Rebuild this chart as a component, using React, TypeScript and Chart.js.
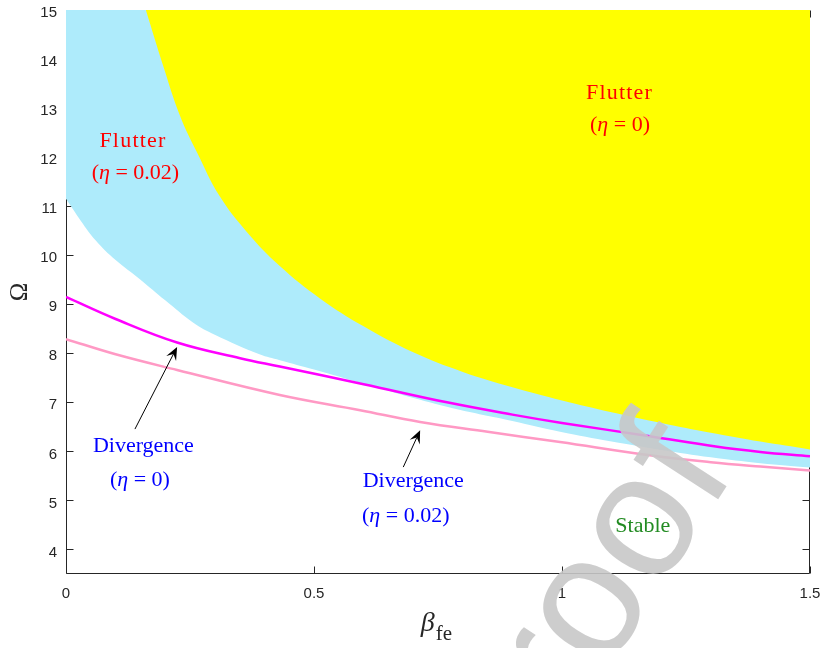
import React, { useEffect, useRef } from "react";
import { Chart, registerables } from "chart.js";

Chart.register(...registerables);

// ---- axes ----
const X_MIN = 0;
const X_MAX = 1.5;
const Y_MIN = 3.5;
const Y_MAX = 15;
const xTickValues = [0, 0.5, 1, 1.5];
const yTickValues = [4, 5, 6, 7, 8, 9, 10, 11, 12, 13, 14, 15];

// ---- Flutter boundary, eta = 0 (yellow region above) ----
const flutterEta0Beta = [0.161, 0.196, 0.23, 0.264, 0.31, 0.365, 0.431, 0.512, 0.6, 0.7, 0.8, 0.9, 1.0, 1.1, 1.2, 1.3, 1.4, 1.5];
const flutterEta0Omega = [15, 13.86, 12.84, 12.1, 11.2, 10.47, 9.78, 9.12, 8.55, 8.02, 7.62, 7.31, 7.04, 6.8, 6.58, 6.38, 6.2, 6.04];

// ---- Flutter boundary, eta = 0.02 (cyan region above) ----
const flutterEta002Beta = [0, 0.03, 0.06, 0.1, 0.149, 0.2, 0.256, 0.3, 0.39, 0.431, 0.5, 0.6, 0.768, 0.9, 0.996, 1.1, 1.2, 1.3, 1.4, 1.5];
const flutterEta002Omega = [11.15, 10.7, 10.3, 9.9, 9.51, 9.08, 8.63, 8.38, 7.98, 7.86, 7.67, 7.38, 6.91, 6.62, 6.4, 6.2, 6.03, 5.88, 5.76, 5.67];

// ---- Divergence boundary, eta = 0 (magenta) ----
const divEta0Beta = [0, 0.1, 0.224, 0.351, 0.431, 0.6, 0.768, 0.9, 1.0, 1.177, 1.31, 1.4, 1.5];
const divEta0Omega = [9.15, 8.7, 8.22, 7.9, 7.73, 7.37, 7.0, 6.75, 6.58, 6.31, 6.1, 5.99, 5.9];

// ---- Divergence boundary, eta = 0.02 (pink) ----
const divEta002Beta = [0, 0.1, 0.224, 0.431, 0.593, 0.714, 0.85, 0.996, 1.177, 1.3, 1.4, 1.5];
const divEta002Omega = [8.29, 7.98, 7.66, 7.15, 6.84, 6.6, 6.4, 6.19, 5.92, 5.78, 5.69, 5.61];

type Seg = { t: string; italic?: boolean };
type Note = { segs: Seg[]; beta: number; omega: number; color: string; spacing?: number };

const notes: Note[] = [
  { segs: [{ t: "Flutter" }], beta: 0.135, omega: 12.2, color: "#ff0000", spacing: 1.2 },
  { segs: [{ t: "(" }, { t: "η", italic: true }, { t: " = 0.02)" }], beta: 0.14, omega: 11.55, color: "#ff0000" },
  { segs: [{ t: "Flutter" }], beta: 1.116, omega: 13.18, color: "#ff0000", spacing: 1.2 },
  { segs: [{ t: "(" }, { t: "η", italic: true }, { t: " = 0)" }], beta: 1.117, omega: 12.53, color: "#ff0000" },
  { segs: [{ t: "Divergence" }], beta: 0.156, omega: 5.98, color: "#0000ff" },
  { segs: [{ t: "(" }, { t: "η", italic: true }, { t: " = 0)" }], beta: 0.149, omega: 5.29, color: "#0000ff" },
  { segs: [{ t: "Divergence" }], beta: 0.7, omega: 5.27, color: "#0000ff" },
  { segs: [{ t: "(" }, { t: "η", italic: true }, { t: " = 0.02)" }], beta: 0.685, omega: 4.57, color: "#0000ff" },
  { segs: [{ t: "Stable" }], beta: 1.163, omega: 4.35, color: "#228b22" },
];

const arrowTailBeta = [0.139, 0.68];
const arrowTailOmega = [6.455, 5.68];
const arrowTipBeta = [0.224, 0.714];
const arrowTipOmega = [8.13, 6.43];

const SERIF = '"Liberation Serif", "Times New Roman", serif';
const SANS = '"Liberation Sans", Arial, sans-serif';

const zip = (xs: number[], ys: number[]) => xs.map((x, i) => ({ x, y: ys[i] }));

function drawSegs(ctx: CanvasRenderingContext2D, segs: Seg[], cx: number, baseY: number, size: number, spacing = 0) {
  const fontOf = (s: Seg) => `${s.italic ? "italic " : ""}${size}px ${SERIF}`;
  (ctx as any).letterSpacing = `${spacing}px`;
  let total = 0;
  const widths = segs.map((s) => {
    ctx.font = fontOf(s);
    const w = ctx.measureText(s.t).width;
    total += w;
    return w;
  });
  let x = cx - total / 2;
  segs.forEach((s, i) => {
    ctx.font = fontOf(s);
    ctx.fillText(s.t, x, baseY);
    x += widths[i];
  });
  (ctx as any).letterSpacing = "0px";
}

function drawArrow(ctx: CanvasRenderingContext2D, x0: number, y0: number, x1: number, y1: number) {
  const ang = Math.atan2(y1 - y0, x1 - x0);
  const headLen = 13;
  const headW = 5.5;
  const notch = 8;
  const ux = Math.cos(ang);
  const uy = Math.sin(ang);
  const px = -uy;
  const py = ux;
  ctx.beginPath();
  ctx.moveTo(x0, y0);
  ctx.lineTo(x1 - ux * notch, y1 - uy * notch);
  ctx.stroke();
  ctx.beginPath();
  ctx.moveTo(x1, y1);
  ctx.lineTo(x1 - ux * headLen + px * headW, y1 - uy * headLen + py * headW);
  ctx.lineTo(x1 - ux * notch, y1 - uy * notch);
  ctx.lineTo(x1 - ux * headLen - px * headW, y1 - uy * headLen - py * headW);
  ctx.closePath();
  ctx.fill();
}

const zeroPad = (s: any) => {
  s.paddingLeft = 0;
  s.paddingRight = 0;
  s.paddingTop = 0;
  s.paddingBottom = 0;
};

const decorPlugin = {
  id: "decor",
  beforeDatasetsDraw(chart: any) {
    const { ctx, chartArea: a, scales } = chart;
    ctx.save();
    ctx.strokeStyle = "#262626";
    ctx.lineWidth = 1;
    const L = Math.round(a.left) + 0.5;
    const R = Math.round(a.right) - 0.5;
    const T = Math.round(a.top) + 0.5;
    const B = Math.round(a.bottom) - 0.5;
    ctx.beginPath();
    ctx.rect(L, T, R - L, B - T);
    const tl = 7;
    xTickValues.forEach((v) => {
      const p = Math.round(scales.x.getPixelForValue(v)) + 0.5;
      ctx.moveTo(p, B);
      ctx.lineTo(p, B - tl);
      ctx.moveTo(p, T);
      ctx.lineTo(p, T + tl);
    });
    yTickValues.forEach((v) => {
      const p = Math.round(scales.y.getPixelForValue(v)) + 0.5;
      ctx.moveTo(L, p);
      ctx.lineTo(L + tl, p);
      ctx.moveTo(R, p);
      ctx.lineTo(R - tl, p);
    });
    ctx.stroke();
    ctx.restore();
  },
  afterDatasetsDraw(chart: any) {
    const { ctx, scales } = chart;
    ctx.save();
    ctx.textAlign = "left";
    ctx.textBaseline = "alphabetic";
    notes.forEach((n) => {
      ctx.fillStyle = n.color;
      drawSegs(ctx, n.segs, scales.x.getPixelForValue(n.beta), scales.y.getPixelForValue(n.omega), 22, n.spacing || 0);
    });
    ctx.strokeStyle = "#000";
    ctx.fillStyle = "#000";
    ctx.lineWidth = 1;
    arrowTailBeta.forEach((b, i) => {
      drawArrow(
        ctx,
        scales.x.getPixelForValue(b),
        scales.y.getPixelForValue(arrowTailOmega[i]),
        scales.x.getPixelForValue(arrowTipBeta[i]),
        scales.y.getPixelForValue(arrowTipOmega[i])
      );
    });
    ctx.restore();
  },
  afterDraw(chart: any) {
    const { ctx, chartArea: a } = chart;
    ctx.save();
    // x title: beta_fe
    ctx.fillStyle = "#262626";
    ctx.textBaseline = "alphabetic";
    ctx.textAlign = "left";
    const cx = (a.left + a.right) / 2;
    ctx.font = `italic 28px ${SERIF}`;
    const wb = ctx.measureText("β").width;
    ctx.font = `21px ${SERIF}`;
    const wf = ctx.measureText("fe").width;
    const x0 = cx - (wb + wf) / 2 - 2;
    ctx.font = `italic 28px ${SERIF}`;
    ctx.fillText("β", x0, a.bottom + 57);
    ctx.font = `21px ${SERIF}`;
    ctx.fillText("fe", x0 + wb + 1, a.bottom + 66);
    // y title: Omega
    ctx.translate(20, (a.top + a.bottom) / 2);
    ctx.rotate(-Math.PI / 2);
    ctx.textAlign = "center";
    ctx.textBaseline = "middle";
    ctx.font = `25px ${SERIF}`;
    ctx.fillText("Ω", 0, 0);
    ctx.restore();

    // watermark
    ctx.save();
    ctx.translate(519, 806);
    ctx.rotate((-57 * Math.PI) / 180);
    ctx.font = `175px ${SANS}`;
    ctx.fillStyle = "rgba(200,200,200,0.9)";
    ctx.textAlign = "left";
    ctx.textBaseline = "alphabetic";
    ctx.fillText("proof", 0, 0);
    ctx.restore();
  },
};

export default function App() {
  const ref = useRef<HTMLCanvasElement | null>(null);
  useEffect(() => {
    document.body.style.margin = "0";
    if (!ref.current) return;
    const common = { pointRadius: 0, tension: 0.4 };
    const chart = new Chart(ref.current, {
      type: "line",
      data: {
        datasets: [
          { ...common, data: zip(divEta0Beta, divEta0Omega), borderColor: "#ff00ff", borderWidth: 2.5, fill: false, order: 1 },
          { ...common, data: zip(divEta002Beta, divEta002Omega), borderColor: "#ff99c4", borderWidth: 2.5, fill: false, order: 2 },
          { ...common, data: zip(flutterEta0Beta, flutterEta0Omega), borderColor: "rgba(0,0,0,0)", borderWidth: 0, backgroundColor: "#ffff00", fill: "end", order: 3 },
          { ...common, data: zip(flutterEta002Beta, flutterEta002Omega), borderColor: "rgba(0,0,0,0)", borderWidth: 0, backgroundColor: "#aeebfb", fill: "end", order: 4 },
        ],
      },
      options: {
        responsive: false,
        animation: false,
        devicePixelRatio: 1,
        layout: { padding: { top: 10, right: 11, left: 0, bottom: 0 } },
        plugins: { legend: { display: false }, tooltip: { enabled: false } },
        scales: {
          x: {
            type: "linear",
            min: X_MIN,
            max: X_MAX,
            grid: { display: false, drawTicks: false },
            border: { display: false },
            afterBuildTicks: (s: any) => {
              s.ticks = xTickValues.map((v) => ({ value: v }));
            },
            afterFit: (s: any) => {
              s.height = 74;
              zeroPad(s);
            },
            ticks: {
              padding: 11,
              maxRotation: 0,
              color: "#262626",
              font: { family: SANS, size: 15 },
              callback: (v: any) => String(v),
            },
          },
          y: {
            type: "linear",
            min: Y_MIN,
            max: Y_MAX,
            grid: { display: false, drawTicks: false },
            border: { display: false },
            afterBuildTicks: (s: any) => {
              s.ticks = yTickValues.map((v) => ({ value: v }));
            },
            afterFit: (s: any) => {
              s.width = 66;
              zeroPad(s);
            },
            ticks: {
              padding: 9,
              labelOffset: 3,
              color: "#262626",
              font: { family: SANS, size: 15 },
              callback: (v: any) => String(v),
            },
          },
        },
      },
      plugins: [decorPlugin],
    });
    return () => chart.destroy();
  }, []);
  return (
    <div style={{ position: "absolute", left: 0, top: 0, width: 821, height: 648, background: "#fff" }}>
      <canvas ref={ref} width={821} height={648} style={{ display: "block" }} />
    </div>
  );
}
